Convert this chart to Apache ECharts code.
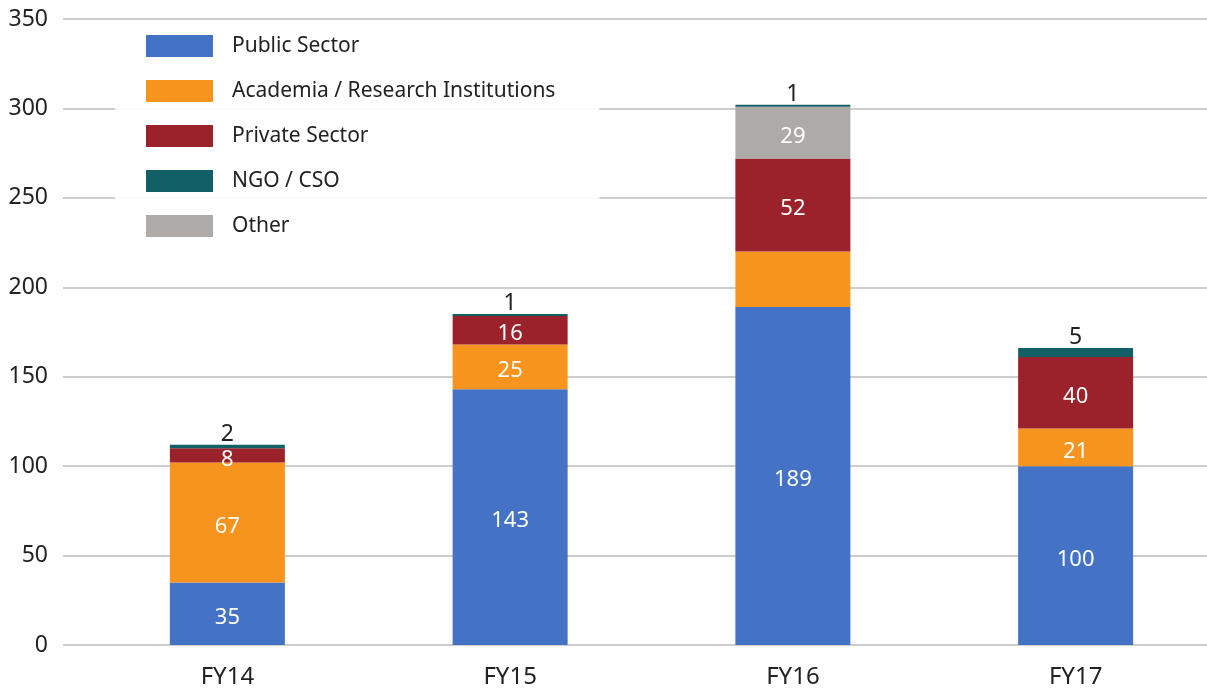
<!DOCTYPE html>
<html><head><meta charset="utf-8">
<script src="https://cdn.jsdelivr.net/npm/echarts@6/dist/echarts.min.js"></script>
<style>html,body{margin:0;padding:0;background:#fff}#c{width:1207px;height:690px}</style>
</head><body><div id="c"></div>
<script>
const categories = ['FY14', 'FY15', 'FY16', 'FY17'];
const publicSector = [35, 143, 189, 100];
const academia = [67, 25, 31, 21];
const privateSector = [8, 16, 52, 40];
const ngo = [2, 1, 1, 5];
const other = [0, 0, 29, 0];
const yTicks = [0, 50, 100, 150, 200, 250, 300, 350];
const hiddenLabels = { academia: [2] };

const font = '"Noto Sans", "Open Sans", sans-serif';
const chart = echarts.init(document.getElementById('c'));
function mk(name, data, color, opts) {
  opts = opts || {};
  return {
    name, type: 'bar', stack: 't', xAxisIndex: 1, yAxisIndex: 1,
    barWidth: 115, itemStyle: { color },
    data: data.map((v, i) => {
      const d = { value: v === 0 ? null : v };
      if (opts.hide && opts.hide.includes(i)) d.label = { show: false };
      return d;
    }),
    label: Object.assign({ show: true, position: 'inside', color: '#fff', fontSize: 22, fontFamily: font, offset: [0, 4] }, opts.label || {})
  };
}
chart.setOption({
  animation: false,
  textStyle: { fontFamily: font },
  grid: [
    { left: 63, right: 0, top: 19, bottom: 45, outerBoundsMode: 'none' },
    { left: 86, right: -10, top: 19, bottom: 45, outerBoundsMode: 'none' }
  ],
  legend: {
    left: 115, top: 21, orient: 'vertical', itemWidth: 67, itemHeight: 22, itemGap: 23,
    padding: [14, 44, 12, 31],
    backgroundColor: 'rgba(255,255,255,0.9)',
    textStyle: { fontSize: 21, color: '#222', fontFamily: font, padding: [0, 0, 0, 14] },
    icon: 'rect',
    data: ['Public Sector', 'Academia / Research Institutions', 'Private Sector', 'NGO / CSO', 'Other']
  },
  xAxis: [
    { type: 'category', gridIndex: 0, data: categories, show: false },
    { type: 'category', gridIndex: 1, data: categories,
      axisLine: { show: false }, axisTick: { show: false },
      axisLabel: { fontSize: 24, color: '#222', margin: 20, fontFamily: font } }
  ],
  yAxis: [
    { type: 'value', gridIndex: 0, min: yTicks[0], max: yTicks[yTicks.length - 1], interval: 50,
      axisLabel: { fontSize: 23, color: '#222', margin: 15, fontFamily: font },
      splitLine: { lineStyle: { color: '#bdbdbd', width: 1.5 } },
      axisLine: { show: false }, axisTick: { show: false } },
    { type: 'value', gridIndex: 1, min: 0, max: 350, interval: 50, show: false,
      splitLine: { show: false } }
  ],
  series: [
    mk('Public Sector', publicSector, '#4472C4'),
    mk('Academia / Research Institutions', academia, '#F7941D', { hide: hiddenLabels.academia }),
    mk('Private Sector', privateSector, '#9B212B'),
    mk('Other', other, '#AEAAA8'),
    mk('NGO / CSO', ngo, '#135F66', { label: { position: 'top', color: '#222', distance: 3, fontSize: 23, offset: [0, 4] } })
  ]
});
</script></body></html>
